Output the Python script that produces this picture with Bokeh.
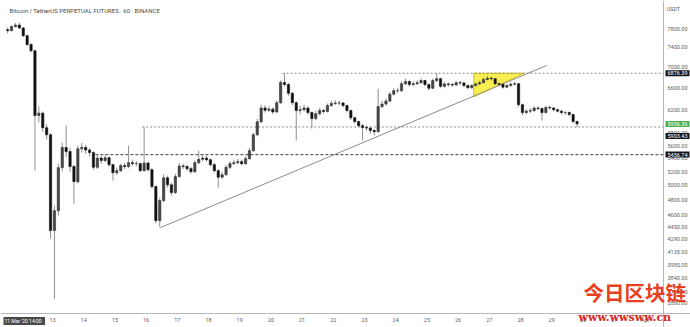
import numpy as np
import pandas as pd
from bokeh.plotting import figure
from bokeh.models import (Range1d, FixedTicker, PrintfTickFormatter, CustomJSTickFormatter,
                          Label, ColumnDataSource, Span)
from bokeh.embed import file_html
from bokeh.resources import INLINE

# ---------------- data (3-hour candles, BTC/USDT perpetual) ----------------
first_start = "2020-03-11 12:00"
first_open = 7780
closes = [7760, 7850, 7885, 7820, 7650, 7460, 7330, 6100, 6140, 5890,
          5775, 4400, 4655, 5260, 5570, 5505, 5275, 5055, 5550, 5570,
          5530, 5490, 5265, 5405, 5366, 5410, 5305, 5185, 5215, 5290,
          5275, 5335, 5320, 5320, 5215, 5330, 5230, 4985, 4525, 4790,
          5110, 5010, 4900, 5130, 5285, 5275, 5245, 5200, 5335, 5385,
          5405, 5380, 5305, 5215, 5120, 5155, 5265, 5320, 5335, 5350,
          5320, 5395, 5520, 5775, 5990, 6230, 6190, 6210, 6160, 6325,
          6700, 6660, 6495, 6325, 6185, 6200, 6230, 6150, 6045, 6130,
          6185, 6170, 6275, 6310, 6320, 6320, 6275, 6185, 6060, 5995,
          5925, 5895, 5885, 5845, 5825, 6255, 6300, 6355, 6480, 6545,
          6545, 6675, 6715, 6660, 6675, 6695, 6735, 6660, 6590, 6735,
          6770, 6625, 6670, 6660, 6650, 6695, 6690, 6640, 6600, 6640,
          6670, 6695, 6755, 6780, 6770, 6675, 6665, 6610, 6640, 6665,
          6675, 6290, 6150, 6175, 6185, 6230, 6220, 6150, 6240, 6230,
          6200, 6175, 6150, 6150, 6115, 5995, 5956]
highs = [7830, 7880, 7930, 7940, 7840, 7670, 7490, 7350, 6260, 6170,
         5950, 5800, 4720, 5320, 5650, 5930, 5560, 5300, 5600, 5640,
         5610, 5560, 5510, 5450, 5440, 5460, 5430, 5320, 5260, 5320,
         5330, 5600, 5380, 5360, 5340, 5903, 5350, 5250, 5000, 4830,
         5160, 5140, 5040, 5170, 5330, 5320, 5300, 5270, 5370, 5520,
         5450, 5440, 5400, 5330, 5240, 5200, 5300, 5360, 5380, 5390,
         5380, 5430, 5560, 5810, 6040, 6290, 6280, 6260, 6240, 6370,
         6740, 6876, 6690, 6520, 6350, 6270, 6290, 6260, 6170, 6180,
         6230, 6220, 6310, 6360, 6370, 6360, 6340, 6290, 6200, 6080,
         6010, 5960, 5930, 5910, 5870, 6580, 6360, 6400, 6520, 6590,
         6600, 6720, 6770, 6740, 6720, 6740, 6780, 6750, 6680, 6770,
         6880, 6790, 6710, 6700, 6690, 6730, 6730, 6710, 6660, 6670,
         6700, 6730, 6790, 6830, 6810, 6780, 6700, 6680, 6670, 6700,
         6710, 6690, 6310, 6210, 6230, 6260, 6260, 6240, 6270, 6270,
         6250, 6220, 6200, 6180, 6170, 6130, 6010]
lows = [7700, 7745, 7830, 7790, 7620, 7430, 7290, 5215, 5980, 5820,
        5700, 4300, 3625, 4590, 5200, 5420, 5200, 4750, 5030, 5490,
        5470, 5430, 5230, 5240, 5320, 5340, 5270, 5070, 5150, 5190,
        5240, 5250, 5290, 5280, 5190, 5200, 5200, 4950, 4490, 4440,
        4770, 4970, 4860, 4880, 5110, 5240, 5210, 5170, 5180, 5310,
        5360, 5350, 5280, 5190, 4970, 5090, 5140, 5240, 5300, 5310,
        5290, 5300, 5380, 5500, 5750, 5970, 6150, 6160, 6120, 6140,
        6300, 6620, 6450, 6280, 5680, 6120, 6170, 6110, 5877, 6020,
        6100, 6130, 6150, 6250, 6280, 6280, 6240, 6150, 6020, 5960,
        5900, 5680, 5840, 5790, 5760, 5810, 6220, 6270, 6330, 6450,
        6500, 6520, 6650, 6620, 6630, 6650, 6670, 6620, 6550, 6570,
        6700, 6590, 6600, 6620, 6610, 6630, 6650, 6610, 6570, 6580,
        6620, 6650, 6680, 6740, 6730, 6650, 6630, 6580, 6590, 6620,
        6640, 6250, 6100, 6120, 6140, 6160, 6190, 6010, 6130, 6200,
        6170, 6150, 6120, 6110, 6090, 5970, 5900]

# horizontal levels and trend line
level_high = 6876.39
level_mid = 5903.43
level_low = 5456.74
level_high_start = "2020-03-20 09:00"
level_mid_start = "2020-03-15 21:00"
level_low_start = "2020-03-14 09:00"
trend_times = ["2020-03-16 11:00", "2020-03-28 20:00"]
trend_prices = [4436, 7028]
tri_times = ["2020-03-26 12:00", "2020-03-28 03:00", "2020-03-26 12:00"]
tri_prices = [6876.39, 6876.39, 6430]
last_price = 5956.36

y_ticks = [3580, 3700, 3840, 3985, 4135, 4290, 4450, 4600, 4800, 5000,
           5200, 5400, 5600, 5800, 6200, 6600, 7000, 7400, 7800]
x_tick_days = pd.date_range("2020-03-13", "2020-04-01", freq="D")

# ---------------- layout helpers ----------------
W, H = 690, 327
FRAME_T0 = pd.Timestamp("2020-03-11 08:00")
PX_PER_DAY = 31.2
FRAME_T1 = FRAME_T0 + pd.Timedelta(days=W / PX_PER_DAY)
PX_PER_LN = 352.3
Y_TOP = 8453.0
Y_BOT = float(np.exp(np.log(Y_TOP) - H / PX_PER_LN))
AXIS_X = 663      # pixel of the price-axis line
AXIS_Y = 313      # pixel of the time-axis line


def tx(px):
    return (FRAME_T0 + pd.Timedelta(days=px / PX_PER_DAY)).value / 1e6


def py(ypx):
    return float(np.exp(np.log(Y_TOP) - ypx / PX_PER_LN))


opens = [first_open] + closes[:-1]
times = pd.date_range(first_start, periods=len(closes), freq="3h") + pd.Timedelta(minutes=90)
df = pd.DataFrame(dict(t=times, o=opens, h=highs, l=lows, c=closes))
df["top"] = df[["o", "c"]].max(axis=1)
df["bot"] = df[["o", "c"]].min(axis=1)
up = ColumnDataSource(df[df.c >= df.o])
dn = ColumnDataSource(df[df.c < df.o])
allsrc = ColumnDataSource(df)

p = figure(width=W, height=H, x_axis_type="datetime", y_axis_type="log",
           x_range=Range1d(FRAME_T0, FRAME_T1), y_range=Range1d(Y_BOT, Y_TOP),
           y_axis_location="right", output_backend="svg", toolbar_location=None,
           min_border_left=0, min_border_top=0, min_border_right=0, min_border_bottom=0,
           background_fill_color="white", border_fill_color="white")
p.outline_line_color = None
p.grid.visible = False

FONT = "Roboto"
for ax in (p.xaxis[0], p.yaxis[0]):
    ax.axis_line_color = None
    ax.major_tick_line_color = None
    ax.minor_tick_line_color = None
    ax.major_tick_out = 0
    ax.major_tick_in = 0
    ax.major_label_text_font = FONT
    ax.major_label_text_font_size = "5.5px"
    ax.major_label_text_color = "#606060"
# labels sit inside the canvas, right of / below the drawn axis lines
p.yaxis.major_label_standoff = -(W - AXIS_X - 4)
p.xaxis.major_label_standoff = -(H - AXIS_Y - 3)

p.yaxis.ticker = FixedTicker(ticks=y_ticks, minor_ticks=[])
p.yaxis.formatter = PrintfTickFormatter(format="%.2f")
p.xaxis.ticker = FixedTicker(ticks=[d.value / 1e6 for d in x_tick_days], minor_ticks=[])
p.xaxis.formatter = CustomJSTickFormatter(code="""
const d = new Date(tick); const n = d.getUTCDate();
return n == 1 ? 'Apr' : String(n);""")

# axis lines
p.add_layout(Span(location=tx(AXIS_X), dimension="height", line_color="#b8b8b8", line_width=1))
p.add_layout(Span(location=py(AXIS_Y), dimension="width", line_color="#b8b8b8", line_width=1))

# yellow triangle
p.patch([pd.Timestamp(t) for t in tri_times], tri_prices, fill_color="#f6ec3c",
        fill_alpha=0.9, line_color="#d9c61c", line_width=1)

# levels
end_t = tx(AXIS_X)
p.line([pd.Timestamp(level_high_start).value / 1e6, end_t], [level_high, level_high],
       line_color="#8a8a8a", line_dash="2 2", line_width=1)
p.line([pd.Timestamp(level_mid_start).value / 1e6, end_t], [level_mid, level_mid],
       line_color="#8a8a8a", line_dash="2 2", line_width=1)
p.line([pd.Timestamp(level_low_start).value / 1e6, end_t], [level_low, level_low],
       line_color="#3a3a3a", line_dash="3 2", line_width=1)

# trend line
p.line([pd.Timestamp(t) for t in trend_times], trend_prices, line_color="#8c8c8c", line_width=1)

# candles
w = 3 * 3600 * 1000 * 0.58
p.segment(x0="t", y0="l", x1="t", y1="h", source=allsrc, line_color="#8f8f8f", line_width=1)
p.vbar(x="t", width=w, top="top", bottom="bot", source=up, fill_color="#4a4a4a",
       line_color="#2a2a2a", line_width=0.6)
p.vbar(x="t", width=w, top="top", bottom="bot", source=dn, fill_color="#111111",
       line_color="#111111", line_width=0.6)

# texts
p.add_layout(Label(x=tx(9), y=py(10), text="Bitcoin / TetherUS PERPETUAL FUTURES · 60 · BINANCE",
                   text_font=FONT, text_font_size="6px", text_color="#4a4a4a",
                   text_baseline="middle"))


def tag(ypx, text, bg):
    p.add_layout(Label(x=tx(AXIS_X + 2), y=py(ypx), text=text, text_font=FONT,
                       text_font_size="5.5px", text_color="white", background_fill_color=bg,
                       text_baseline="middle", text_align="left", padding=(2, 1)))


tag(72.7, f"{level_high:.2f}", "#131722")
tag(123.5, f"{last_price:.2f}", "#4caf50")
tag(135.5, f"{level_mid:.2f}", "#131722")
tag(154.0, f"{level_low:.2f}", "#131722")

p.add_layout(Label(x=tx(666), y=py(8), text="USDT", text_font=FONT,
                   text_font_size="5.5px", text_color="#606060", text_baseline="middle"))
p.add_layout(Label(x=tx(3), y=py(320.5), text="11 Mar '20   14:00", text_font=FONT,
                   text_font_size="5px", text_color="white", background_fill_color="#4a4a4a",
                   text_baseline="middle", padding=1))

# watermark
p.add_layout(Label(x=tx(583), y=py(306), text="今日区块链", text_font="Noto Sans CJK SC",
                   text_font_size="20.5px", text_font_style="bold", text_color="#e8401f",
                   text_baseline="bottom"))
p.add_layout(Label(x=tx(578), y=py(323), text="www.wwsww.cn", text_font="DejaVu Serif",
                   text_font_size="11px", text_font_style="bold", text_color="#d9261c",
                   text_baseline="bottom"))

open("out.html", "w").write(file_html(p, INLINE))
